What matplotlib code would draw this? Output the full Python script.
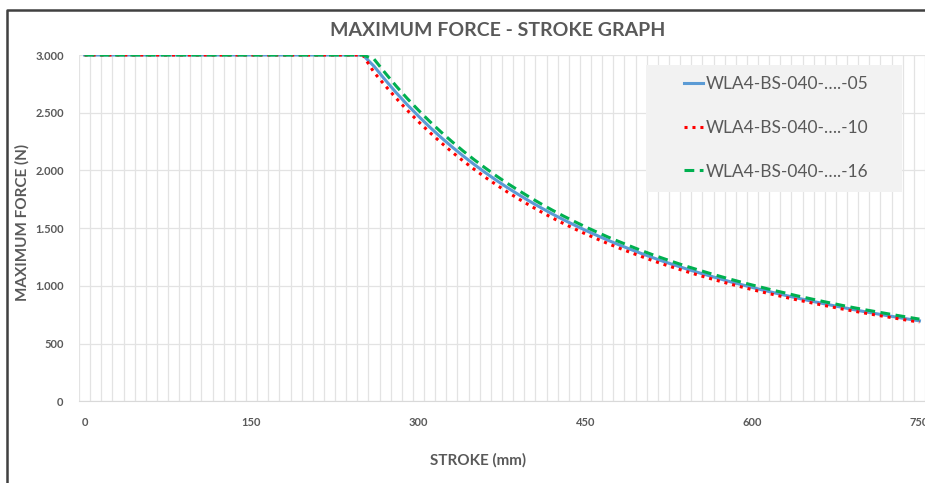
import matplotlib.pyplot as plt
from matplotlib.ticker import FixedLocator, FuncFormatter
from matplotlib.patches import Rectangle
from matplotlib.lines import Line2D

plt.rcParams['font.family'] = ['Lato', 'DejaVu Sans']

# stroke in mm, one point every 10 mm
stroke = list(range(0, 760, 10))

# flat part 0..250 mm, then buckling limit
flat = [3000] * 26
force_05 = flat + [
    2903, 2785, 2673, 2568, 2470, 2376, 2288, 2205, 2126, 2052,
    1981, 1914, 1850, 1790, 1732, 1677, 1624, 1574, 1527, 1481,
    1438, 1396, 1356, 1318, 1281, 1246, 1212, 1180, 1149, 1119,
    1091, 1063, 1036, 1011, 986, 962, 939, 917, 895, 874,
    854, 834, 815, 796, 778, 761, 744, 728, 712, 697]
force_10 = flat + [
    2850, 2735, 2625, 2520, 2422, 2330, 2243, 2160, 2083, 2010,
    1940, 1875, 1812, 1753, 1696, 1642, 1590, 1541, 1495, 1450,
    1408, 1367, 1328, 1291, 1255, 1220, 1187, 1156, 1126, 1097,
    1069, 1042, 1016, 991, 967, 944, 922, 900, 879, 859,
    839, 820, 801, 783, 766, 749, 733, 717, 701, 686]
force_16 = flat + [
    2965, 2845, 2730, 2622, 2521, 2425, 2335, 2250, 2169, 2093,
    2021, 1952, 1887, 1826, 1767, 1711, 1657, 1606, 1558, 1511,
    1467, 1424, 1384, 1345, 1307, 1271, 1237, 1204, 1172, 1142,
    1113, 1085, 1058, 1032, 1007, 983, 959, 937, 914, 893,
    872, 852, 832, 813, 795, 778, 761, 744, 728, 712]

labels = ['WLA4-BS-040-….-05', 'WLA4-BS-040-….-10', 'WLA4-BS-040-….-16']
x_ticks = [0, 150, 300, 450, 600, 750]
y_ticks = [0, 500, 1000, 1500, 2000, 2500, 3000]

W, H = 925, 483
fig = plt.figure(figsize=(W / 100, H / 100), dpi=100)
ax = fig.add_axes([79 / W, (H - 401.3) / H, 846 / W, 346.3 / H])

gray = '#595959'
ax.plot(stroke, force_05, color='#5B9BD5', lw=2.2, label=labels[0], zorder=3)
ax.plot(stroke, force_10, color='#FF0000', lw=2.2, ls=(0, (1, 1.6)),
        label=labels[1], zorder=3)
ax.plot(stroke, force_16, color='#00B050', lw=2.2, ls=(0, (3.2, 1.8)),
        label=labels[2], zorder=3)

ax.set_xlim(-5, 755)
ax.set_ylim(0, 3000)
ax.xaxis.set_major_locator(FixedLocator(x_ticks))
ax.xaxis.set_minor_locator(FixedLocator([v - 5 for v in stroke] + [755]))
ax.yaxis.set_major_locator(FixedLocator(y_ticks))
ax.yaxis.set_major_formatter(FuncFormatter(lambda v, p: f'{int(v):,}'.replace(',', '.')))
ax.grid(axis='x', which='minor', color='#E3E3E3', lw=0.9)
ax.grid(axis='y', which='major', color='#E3E3E3', lw=0.9)
ax.tick_params(which='both', length=0)
ax.tick_params(axis='x', pad=11, labelsize=8, labelcolor=gray)
ax.tick_params(axis='y', pad=11, labelsize=8, labelcolor=gray)
for t in ax.get_xticklabels() + ax.get_yticklabels():
    t.set_fontweight('bold')
for s in ['top', 'right', 'left']:
    ax.spines[s].set_visible(False)
ax.spines['bottom'].set_color('#D9D9D9')
ax.set_axisbelow(True)

fig.text(498 / W, 1 - 31 / H, 'MAXIMUM FORCE - STROKE GRAPH', ha='center', va='center',
         fontsize=14, fontweight='bold', color=gray)
fig.text(478 / W, 1 - 460 / H, 'STROKE (mm)', ha='center', va='center',
         fontsize=11, fontweight='bold', color=gray)
fig.text(22 / W, 1 - 222 / H, 'MAXIMUM FORCE (N)', ha='center', va='center', rotation=90,
         fontsize=11, fontweight='bold', color=gray)

# legend box, drawn inside the axes so the legend sits on top
ax.add_patch(Rectangle((646 / W, 1 - 192 / H), 256 / W, 127 / H,
                       transform=fig.transFigure, facecolor='#F2F2F2',
                       edgecolor='none', zorder=4, clip_on=False))
leg = ax.legend(loc='upper left', bbox_to_anchor=(684 / W, 1 - 76 / H),
                bbox_transform=fig.transFigure, frameon=False, fontsize=12.5,
                handlelength=1.1, handletextpad=0.15, labelspacing=1.6,
                borderpad=0, borderaxespad=0)
leg.set_zorder(5)
for t in leg.get_texts():
    t.set_color(gray)

# outer chart border
fig.lines.append(Line2D([7 / W, 7 / W, 1.0], [0.0, 1 - 10 / H, 1 - 10 / H],
                        transform=fig.transFigure, color='#404040', lw=1.8))

fig.savefig('out.png', dpi=100)
